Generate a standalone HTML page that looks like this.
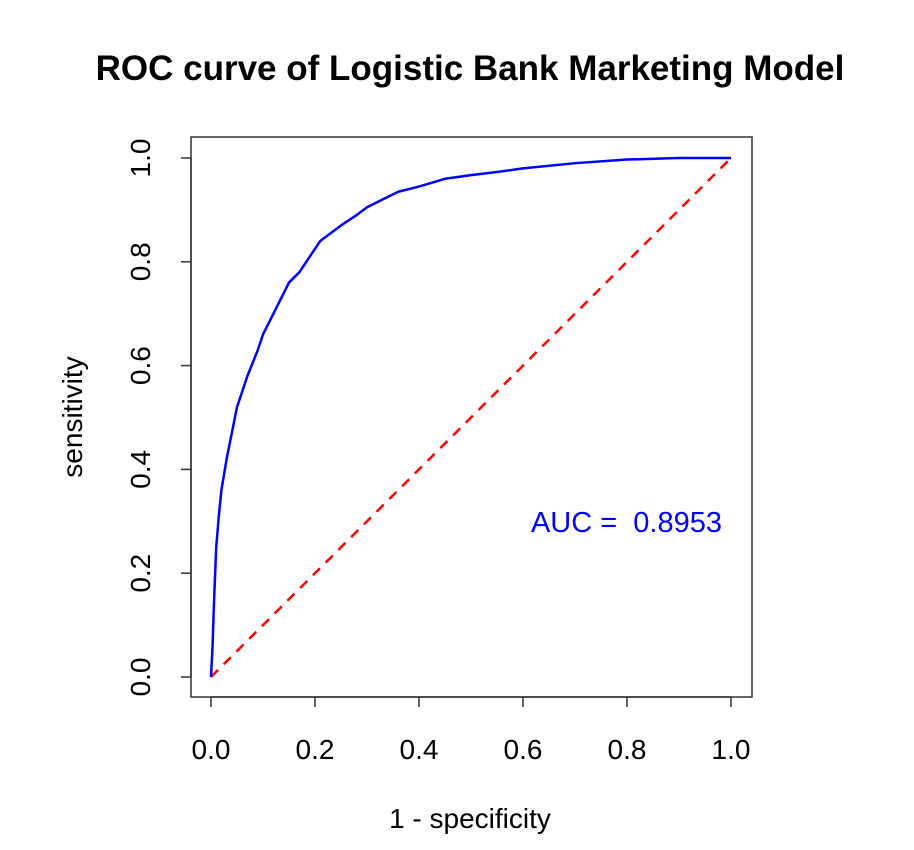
<!DOCTYPE html>
<html><head><meta charset="utf-8"><style>
html,body{margin:0;padding:0;background:#fff;}
svg{display:block;font-family:"Liberation Sans",Arial,sans-serif;}
text{white-space:pre;}
</style></head><body>
<svg id="chart" width="914" height="850" viewBox="0 0 914 850">
<text x="470" y="80" text-anchor="middle" font-size="35" font-weight="bold">ROC curve of Logistic Bank Marketing Model</text>
<rect x="191" y="137" width="561" height="560" fill="none" stroke="#333" stroke-width="1.5"/>
<g id="xaxis"></g>
<g id="yaxis"></g>
<text x="470" y="828" text-anchor="middle" font-size="28">1 - specificity</text>
<text transform="translate(82,417) rotate(-90)" text-anchor="middle" font-size="28">sensitivity</text>
<g id="series"></g>
<text x="722" y="532" text-anchor="end" font-size="29" fill="#0000ff" xml:space="preserve">AUC =  0.8953</text>
</svg>
<script>
const xTicks=[0,0.2,0.4,0.6,0.8,1.0];
const yTicks=[0,0.2,0.4,0.6,0.8,1.0];
const tickLabels=["0.0","0.2","0.4","0.6","0.8","1.0"];
const fpr=[0,0.003,0.006,0.01,0.015,0.02,0.03,0.04,0.05,0.07,0.09,0.1,0.12,0.14,0.15,0.17,0.19,0.21,0.23,0.25,0.28,0.3,0.33,0.36,0.4,0.45,0.5,0.55,0.6,0.7,0.8,0.9,1.0];
const tpr=[0,0.06,0.15,0.25,0.31,0.36,0.42,0.47,0.52,0.58,0.63,0.66,0.7,0.74,0.76,0.78,0.81,0.84,0.855,0.87,0.89,0.905,0.92,0.935,0.945,0.96,0.967,0.973,0.98,0.99,0.997,1,1];
const diagX=[0,1], diagY=[0,1];
const NS="http://www.w3.org/2000/svg";
const sx=v=>211+v*520, sy=v=>677-v*519;
function mk(t,a,p){const e=document.createElementNS(NS,t);for(const k in a)e.setAttribute(k,a[k]);p.appendChild(e);return e;}
const xa=document.getElementById('xaxis'),ya=document.getElementById('yaxis'),sr=document.getElementById('series');
mk('line',{x1:sx(0),x2:sx(1),y1:697,y2:697,stroke:'#333','stroke-width':1.5},xa);
xTicks.forEach((v,i)=>{
 const l=mk('line',{x1:sx(v),x2:sx(v),y1:697,y2:707,stroke:'#333','stroke-width':1.5},xa);
 
 
 const t=mk('text',{x:sx(v),y:759,'text-anchor':'middle','font-size':28},xa);t.textContent=tickLabels[i];
 
 
});
mk('line',{x1:191,x2:191,y1:sy(0),y2:sy(1),stroke:'#333','stroke-width':1.5},ya);
yTicks.forEach((v,i)=>{
 const l=mk('line',{x1:181,x2:191,y1:sy(v),y2:sy(v),stroke:'#333','stroke-width':1.5},ya);
 
 
 const t=mk('text',{transform:`translate(150,${sy(v)}) rotate(-90)`,'text-anchor':'middle','font-size':28},ya);t.textContent=tickLabels[i];
 
 
});
const d=mk('polyline',{points:diagX.map((v,i)=>sx(v)+','+sy(diagY[i])).join(' '),fill:'none',stroke:'#ff0000','stroke-width':2.5,'stroke-dasharray':'10,8'},sr);


const c=mk('polyline',{points:fpr.map((v,i)=>sx(v)+','+sy(tpr[i])).join(' '),fill:'none',stroke:'#0000ff','stroke-width':2.5,'stroke-linejoin':'round'},sr);


</script>
</body></html>
